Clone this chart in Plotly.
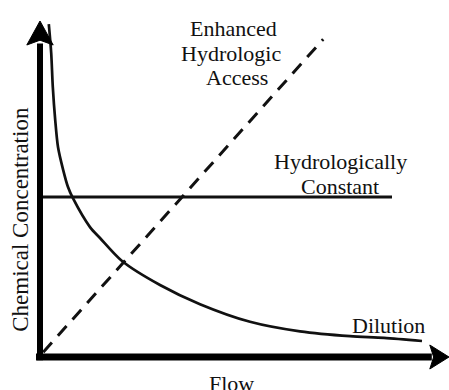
import plotly.graph_objects as go

# Conceptual concentration-discharge relationships (arbitrary units)
dilution_flow = [0.22, 0.28, 0.32, 0.38, 0.45, 0.58, 0.7, 0.82, 1.25, 1.5, 2.05, 3.0, 4.0, 5.25, 6.5, 7.75, 8.6, 9.55]
dilution_conc = [10.4, 9.5, 8.44, 7.41, 6.56, 5.84, 5.31, 4.97, 4.06, 3.72, 3.0, 2.25, 1.65, 1.1, 0.8, 0.65, 0.6, 0.5]

constant_flow = [0.0, 8.8]
constant_conc = [5.0, 5.0]

enhanced_flow = [0.08, 7.08]
enhanced_conc = [0.15, 9.93]

# Axis geometry (in data units)
X_MIN, X_MAX = -1.0, 10.225
Y_MIN, Y_MAX = -1.03125, 11.15625
X_TIP, Y_TIP = 10.225, 10.5
HEAD_LEN_X, HEAD_HALF_X = 0.48, 0.375
HEAD_LEN_Y, HEAD_HALF_Y = 0.75, 0.33

INK = "#111111"
FONT = "Liberation Serif"

fig = go.Figure()

# Curves
fig.add_trace(go.Scatter(x=enhanced_flow, y=enhanced_conc, mode="lines",
                         line=dict(color=INK, width=3, dash="13px,9px")))
fig.add_trace(go.Scatter(x=constant_flow, y=constant_conc, mode="lines",
                         line=dict(color=INK, width=3)))
fig.add_trace(go.Scatter(x=dilution_flow, y=dilution_conc, mode="lines",
                         line=dict(color=INK, width=2.7, shape="spline", smoothing=0.8)))

# Axis shafts
fig.add_trace(go.Scatter(x=[-0.1, X_TIP - HEAD_LEN_X + 0.05], y=[0, 0], mode="lines",
                         line=dict(color="black", width=7)))
fig.add_trace(go.Scatter(x=[0, 0], y=[-0.1, Y_TIP - HEAD_LEN_Y + 0.05], mode="lines",
                         line=dict(color="black", width=6)))

# Arrowheads
fig.add_trace(go.Scatter(
    x=[X_TIP, X_TIP - HEAD_LEN_X, X_TIP - HEAD_LEN_X * 0.8, X_TIP - HEAD_LEN_X, X_TIP],
    y=[0, HEAD_HALF_X, 0, -HEAD_HALF_X, 0],
    mode="lines", fill="toself", fillcolor="black", line=dict(color="black", width=1)))
fig.add_trace(go.Scatter(
    x=[0, -HEAD_HALF_Y, 0, HEAD_HALF_Y, 0],
    y=[Y_TIP, Y_TIP - HEAD_LEN_Y, Y_TIP - HEAD_LEN_Y * 0.8, Y_TIP - HEAD_LEN_Y, Y_TIP],
    mode="lines", fill="toself", fillcolor="black", line=dict(color="black", width=1)))

labels = [
    ("Enhanced", 4.83, 10.28),
    ("Hydrologic", 4.78, 9.5),
    ("Access", 4.92, 8.72),
    ("Hydrologically", 7.52, 6.12),
    ("Constant", 7.5, 5.34),
    ("Dilution", 8.7, 1.0),
    ("Flow", 4.78, -0.84),
]
for text, x, y in labels:
    fig.add_annotation(text=text, x=x, y=y, xref="x", yref="y", showarrow=False,
                       xanchor="center", yanchor="middle",
                       font=dict(family=FONT, size=22, color=INK))

fig.add_annotation(text="Chemical Concentration", x=-0.49, y=4.3, xref="x", yref="y",
                   showarrow=False, textangle=-90, xanchor="center", yanchor="middle",
                   font=dict(family=FONT, size=23, color=INK))

fig.update_layout(
    width=449, height=390,
    margin=dict(l=0, r=0, t=0, b=0),
    paper_bgcolor="white", plot_bgcolor="white",
    showlegend=False,
    xaxis=dict(range=[X_MIN, X_MAX], visible=False, fixedrange=True),
    yaxis=dict(range=[Y_MIN, Y_MAX], visible=False, fixedrange=True),
)

fig.write_html("out.html", config={"displayModeBar": False})
